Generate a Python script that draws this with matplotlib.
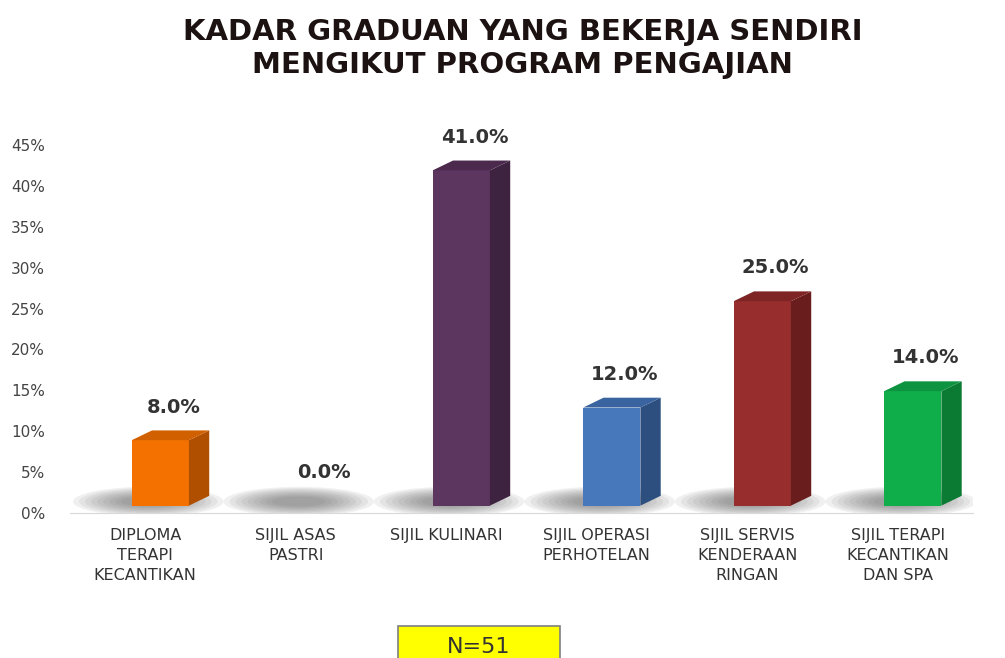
import matplotlib.pyplot as plt
from matplotlib.patches import Polygon, Ellipse, Rectangle

# data
programmes = [
    "DIPLOMA\nTERAPI\nKECANTIKAN",
    "SIJIL ASAS\nPASTRI",
    "SIJIL KULINARI",
    "SIJIL OPERASI\nPERHOTELAN",
    "SIJIL SERVIS\nKENDERAAN\nRINGAN",
    "SIJIL TERAPI\nKECANTIKAN\nDAN SPA",
]
rates = [0.08, 0.0, 0.41, 0.12, 0.25, 0.14]
front_colors = ["#F47100", "#888888", "#5D3660", "#4878BC", "#972D2D", "#10AD4B"]
side_colors = ["#B04F00", "#666666", "#3E2340", "#2D4F80", "#6A1D1D", "#0B7A33"]
top_colors = ["#D06000", "#777777", "#4B2A4E", "#3A64A0", "#7E2424", "#0E9440"]
yticks = [0, 0.05, 0.10, 0.15, 0.20, 0.25, 0.30, 0.35, 0.40, 0.45]
n_respondents = 51

fig = plt.figure(figsize=(10.05, 6.58), dpi=100)
ax = fig.add_axes([70 / 1005, (658 - 513) / 658, 903 / 1005, 368 / 658])

floor = 0.009
bar_w = 0.38
shift = 0.10
dx, dy = 0.135, 0.012

for i, (v, fc, sc, tc) in enumerate(zip(rates, front_colors, side_colors, top_colors)):
    x0 = i + shift - bar_w / 2
    x1 = x0 + bar_w
    # soft floor shadow
    for k in range(9):
        ax.add_patch(Ellipse((i + 0.02, floor + 0.005), 1.0 - k * 0.08, 0.036 - k * 0.003,
                             color="#606060", alpha=0.09, lw=0, zorder=1))
    if v <= 0:
        continue
    ax.bar(x0, v, width=bar_w, bottom=floor, align="edge", color=fc, zorder=3)
    top = floor + v
    ax.add_patch(Polygon([(x1, floor), (x1 + dx, floor + dy), (x1 + dx, top + dy), (x1, top)],
                         closed=True, color=sc, lw=0, zorder=3))
    ax.add_patch(Polygon([(x0, top), (x1, top), (x1 + dx, top + dy), (x0 + dx, top + dy)],
                         closed=True, color=tc, lw=0, zorder=3))

for i, v in enumerate(rates):
    ax.text(i + shift + dx / 2 + 0.02, floor + v + dy + 0.017, f"{v * 100:.1f}%",
            ha="center", va="bottom", fontsize=14, fontweight="bold", color="#333333", zorder=5)

ax.set_xlim(-0.5, len(rates) - 0.5)
ax.set_ylim(0, 0.45)
ax.set_yticks(yticks)
ax.set_yticklabels([f"{int(round(t * 100))}%" for t in yticks], fontsize=11, color="#444444")
ax.set_xticks(range(len(programmes)))
ax.set_xticklabels(programmes, fontsize=11.5, color="#333333", linespacing=1.4)
ax.tick_params(axis="both", length=0)
ax.tick_params(axis="x", pad=11)
ax.tick_params(axis="y", pad=18)
for side in ["top", "right", "left"]:
    ax.spines[side].set_visible(False)
ax.spines["bottom"].set_color("#D9D9D9")
ax.set_facecolor("none")

fig.text(0.52, 0.972, "KADAR GRADUAN YANG BEKERJA SENDIRI\nMENGIKUT PROGRAM PENGAJIAN",
         ha="center", va="top", fontsize=21, fontweight="heavy", color="#1C1212", linespacing=1.2)

fig.patches.append(Rectangle((398 / 1005, -0.01), 162 / 1005, 0.058, transform=fig.transFigure,
                             facecolor="#FFFF00", edgecolor="#7F7F7F", lw=1.2))
fig.text(479 / 1005, 0.017, f"N={n_respondents}", ha="center", va="center",
         fontsize=16, color="#333333")

fig.savefig("out.png", dpi=100)
